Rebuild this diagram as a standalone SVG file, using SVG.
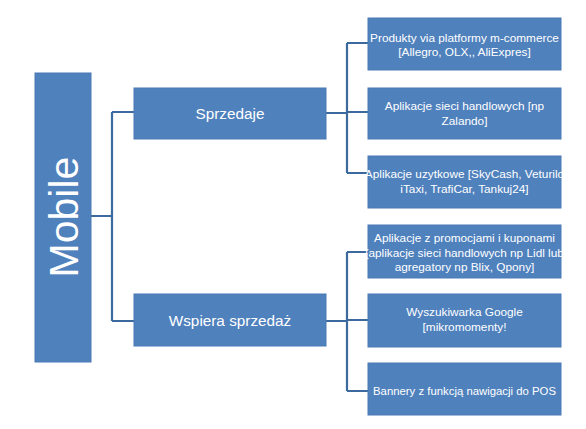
<svg xmlns="http://www.w3.org/2000/svg" width="586" height="429" viewBox="0 0 586 429">
<style>
.box{fill:#4F81BD;stroke:#4A7AB5;stroke-width:1}
.t{fill:#fff;font-family:"Liberation Sans",Arial,sans-serif;text-anchor:middle}
.s{font-size:11.8px}
.m{font-size:15.3px}
.c{fill:none;stroke:#3D6A9E;stroke-width:2.2}
</style>
<rect width="586" height="429" fill="#fff"/>
<g id="connectors">
<path class="c" d="M91 216 H112 M112 112 V321 M112 112 H134 M112 321 H134"/>
<path class="c" d="M326 113 H347 M347 43 V173 M347 43 H368 M347 112 H368 M347 173 H368"/>
<path class="c" d="M326 321 H347 M347 252 V391 M347 252 H368 M347 320 H368 M347 391 H368"/>
</g>
<g id="mobile">
<rect class="box" x="35" y="73" width="56" height="289"/>
<text class="t" transform="translate(78 217) rotate(-90)" font-size="41">Mobile</text>
</g>
<g id="sprzedaje">
<rect class="box" x="134" y="88" width="192" height="51"/>
<text class="t m" x="230" y="118.5">Sprzedaje</text>
</g>
<g id="wspiera">
<rect class="box" x="134" y="294" width="192" height="52"/>
<text class="t m" x="230" y="325.5">Wspiera sprzedaż</text>
</g>
<g id="n1">
<rect class="box" x="368" y="18" width="193" height="52"/>
<text class="t s" x="464.5" y="41.5">Produkty via platformy m-commerce</text>
<text class="t s" x="464.5" y="56">[Allegro, OLX,, AliExpres]</text>
</g>
<g id="n2">
<rect class="box" x="368" y="88" width="193" height="51"/>
<text class="t s" x="464.5" y="110">Aplikacje sieci handlowych [np</text>
<text class="t s" x="464.5" y="125">Zalando]</text>
</g>
<g id="n3">
<rect class="box" x="368" y="156" width="193" height="52"/>
<text class="t s" x="464.5" y="177.5">Aplikacje uzytkowe [SkyCash, Veturilo</text>
<text class="t s" x="464.5" y="192.5">iTaxi, TrafiCar, Tankuj24]</text>
</g>
<g id="n4">
<rect class="box" x="368" y="225" width="193" height="53"/>
<text class="t s" x="464.5" y="242">Aplikacje z promocjami i kuponami</text>
<text class="t s" x="464.5" y="256.5">[aplikacje sieci handlowych np Lidl lub</text>
<text class="t s" x="464.5" y="271">agregatory np Blix, Qpony]</text>
</g>
<g id="n5">
<rect class="box" x="368" y="294" width="193" height="53"/>
<text class="t s" x="464.5" y="316">Wyszukiwarka Google</text>
<text class="t s" x="464.5" y="331">[mikromomenty!</text>
</g>
<g id="n6">
<rect class="box" x="368" y="363" width="193" height="52"/>
<text class="t s" x="464.5" y="395" textLength="183" lengthAdjust="spacingAndGlyphs">Bannery z funkcją nawigacji do POS</text>
</g>
</svg>
